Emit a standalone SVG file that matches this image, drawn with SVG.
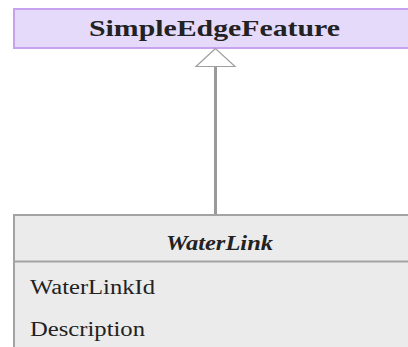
<svg xmlns="http://www.w3.org/2000/svg" width="408" height="347" viewBox="0 0 408 347">
<style>
text{font-family:'Liberation Serif','DejaVu Serif',serif;fill:#222}
.title{font-size:24px;font-weight:bold}
.attr{font-size:20px}
</style>
<rect width="408" height="347" fill="#ffffff"/>
<g id="SimpleEdgeFeature">
<rect x="14" y="9" width="410" height="39" fill="#E6DAFB" stroke="#C7A2EE" stroke-width="2"/>
<text class="title" x="89" y="36" font-family="Liberation Serif, serif" textLength="251" lengthAdjust="spacingAndGlyphs">SimpleEdgeFeature</text>
</g>
<g id="connectors">
<line x1="215.5" y1="66" x2="215.5" y2="214" stroke="#9A9A9A" stroke-width="3"/>
<polygon points="215.5,48.5 196,66.5 235,66.5" fill="#ffffff" stroke="#A0A0A0" stroke-width="1.2"/>
</g>
<g id="WaterLink">
<rect x="14" y="215" width="410" height="140" fill="#EBEBEB" stroke="#A3A3A3" stroke-width="2"/>
<line x1="14" y1="261.5" x2="424" y2="261.5" stroke="#A3A3A3" stroke-width="2"/>
<text class="title" x="166" y="250" font-style="italic" font-family="Liberation Serif, serif" textLength="107" lengthAdjust="spacingAndGlyphs" style="font-size:22px">WaterLink</text>
<text class="attr" x="30" y="294" font-family="Liberation Serif, serif" textLength="125" lengthAdjust="spacingAndGlyphs">WaterLinkId</text>
<text class="attr" x="30" y="336" font-family="Liberation Serif, serif" textLength="115" lengthAdjust="spacingAndGlyphs">Description</text>
</g>
</svg>
